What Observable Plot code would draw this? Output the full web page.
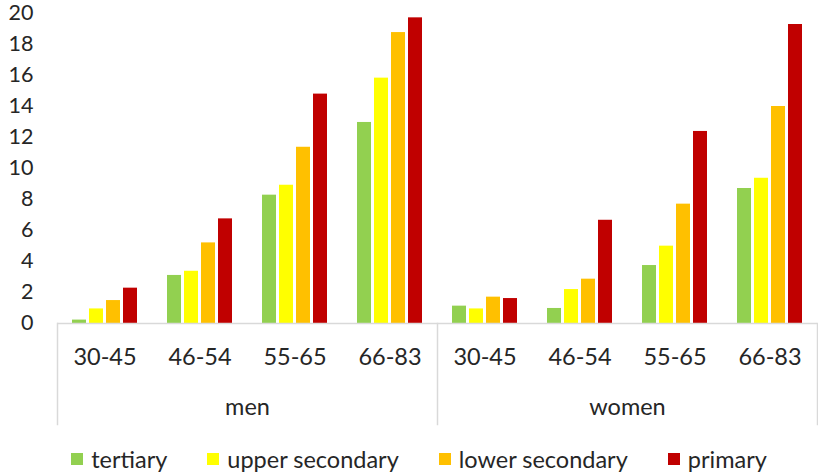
<!DOCTYPE html>
<html>
<head>
<meta charset="utf-8">
<script src="https://cdn.jsdelivr.net/npm/d3@7"></script>
<script src="https://cdn.jsdelivr.net/npm/@observablehq/plot@0.6"></script>
<style>
  html, body { margin: 0; padding: 0; background: #fff; }
  #chart { width: 818px; height: 474px; overflow: hidden; }
  .edu-swatches {
    justify-content: center;
    min-height: 30px !important;
    height: 30px;
    padding-left: 20px;
    font-family: Lato, sans-serif;
    font-size: 23.5px;
    color: #262626;
  }
  .edu-swatch { margin-right: 40px !important; }
  .edu-swatch:last-child { margin-right: 0 !important; }
  .edu-swatch > svg { margin-right: 8px !important; }
</style>
</head>
<body>
<div id="chart"></div>
<script>
// Age bands and sexes on the two-level category axis
const genders = ["men", "women"];
const ages = ["30-45", "46-54", "55-65", "66-83"];

// Education levels (series) and their colours
const levels = ["tertiary", "upper secondary", "lower secondary", "primary"];
const levelColors = ["#92D050", "#FFFF00", "#FFC000", "#C00000"];

// Values per age band, one array per sex and education level
const menTertiary = [0.22, 3.1, 8.28, 12.97];
const menUpperSecondary = [0.94, 3.37, 8.92, 15.83];
const menLowerSecondary = [1.48, 5.2, 11.37, 18.77];
const menPrimary = [2.28, 6.75, 14.8, 19.72];
const womenTertiary = [1.12, 0.97, 3.74, 8.71];
const womenUpperSecondary = [0.94, 2.19, 4.99, 9.37];
const womenLowerSecondary = [1.7, 2.86, 7.7, 14.0];
const womenPrimary = [1.61, 6.66, 12.39, 19.29];

// Y axis tick labels
const yTicks = [0, 2, 4, 6, 8, 10, 12, 14, 16, 18, 20];

const series = {
  men: [menTertiary, menUpperSecondary, menLowerSecondary, menPrimary],
  women: [womenTertiary, womenUpperSecondary, womenLowerSecondary, womenPrimary]
};

// One facet per sex × age band
const keys = genders.flatMap(g => ages.map(a => `${g}|${a}`));
const rows = genders.flatMap(g =>
  levels.flatMap((lvl, li) =>
    ages.map((a, ai) => ({key: `${g}|${a}`, level: lvl, value: series[g][li][ai]}))
  )
);

const W = 818, H = 444, mTop = 13, mBottom = 121, mLeft = 57, mRight = 1;
const frameH = H - mTop - mBottom;
const grey = "#d9d9d9";
const font = "Lato, sans-serif";

// Vertical dividers of the outer (sex) category level
const divider = (key, anchor) => Plot.frame({
  anchor, fx: () => key, stroke: grey, strokeWidth: 1.5,
  insetTop: frameH, insetBottom: -101
});

const chart = Plot.plot({
  width: W,
  height: H,
  marginTop: mTop,
  marginBottom: mBottom,
  marginLeft: mLeft,
  marginRight: mRight,
  style: {fontFamily: font, fontSize: "23.5px", color: "#262626", background: "#fff", overflow: "visible"},
  fx: {
    domain: keys, padding: 0, axis: "bottom", label: null,
    tickSize: 0, tickPadding: 25, tickFormat: k => k.split("|")[1]
  },
  x: {domain: levels, axis: null, paddingInner: 0.176, paddingOuter: 0.88},
  y: {domain: [0, 20], axis: null},
  color: {domain: levels, range: levelColors},
  marks: [
    Plot.axisY({ticks: yTicks, tickSize: 0, tickPadding: 24, label: null, fontSize: 21.5}),
    Plot.barY(rows, {fx: "key", x: "level", y: "value", fill: "level"}),
    Plot.ruleY([0], {stroke: grey, strokeWidth: 1.5}),
    divider("men|30-45", "left"),
    divider("women|30-45", "left"),
    divider("women|66-83", "right"),
    Plot.text(
      genders.map(g => ({key: `${g}|46-54`, label: g})),
      {fx: "key", text: "label", frameAnchor: "bottom-right", textAnchor: "middle", dy: 91, fill: "#262626"}
    )
  ]
});

const legend = Plot.legend({
  color: {domain: levels, range: levelColors},
  legend: "swatches",
  swatchSize: 12,
  className: "edu"
});

const root = document.getElementById("chart");
root.appendChild(chart);
root.appendChild(legend);
</script>
</body>
</html>
